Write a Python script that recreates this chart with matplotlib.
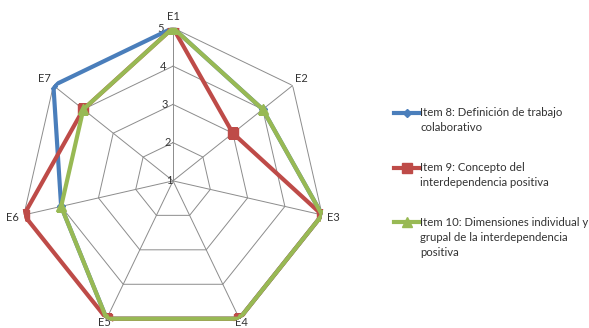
import numpy as np
import matplotlib.pyplot as plt
from matplotlib.legend_handler import HandlerLine2D

plt.rcParams['font.family'] = ['Lato', 'DejaVu Sans']

categories = ["E1", "E2", "E3", "E4", "E5", "E6", "E7"]
item8 = [5, 4, 5, 5, 5, 4, 5]
item9 = [5, 3, 5, 5, 5, 5, 4]
item10 = [5, 4, 5, 5, 5, 4, 4]
labels = [
    "Item 8: Definición de trabajo\ncolaborativo",
    "Item 9: Concepto del\ninterdependencia positiva",
    "Item 10: Dimensiones individual y\ngrupal de la interdependencia\npositiva",
]
levels = [1, 2, 3, 4, 5]


class FirstLineHandler(HandlerLine2D):
    # put the legend line next to the first text line, like Excel does
    def __init__(self, shift, **kw):
        super().__init__(**kw)
        self.shift = shift

    def create_artists(self, legend, orig_handle, xdescent, ydescent,
                       width, height, fontsize, trans):
        arts = super().create_artists(legend, orig_handle, xdescent, ydescent,
                                      width, height, fontsize, trans)
        for a in arts:
            a.set_ydata(np.asarray(a.get_ydata()) + self.shift)
        return arts


n = len(categories)
angles = np.linspace(0, 2 * np.pi, n, endpoint=False)
closed = np.append(angles, angles[0])

fig = plt.figure(figsize=(5.89, 3.28), dpi=100)
ax = fig.add_axes([0.034, -0.018, 0.5195, 0.933], projection="polar")
ax.set_theta_offset(np.pi / 2)
ax.set_theta_direction(-1)
ax.set_rlim(1, 5)
ax.grid(False)
ax.spines["polar"].set_visible(False)
ax.set_xticks([])
ax.set_yticks([])
ax.patch.set_alpha(0)

# polygon gridlines and spokes
for lv in levels[1:]:
    ax.plot(closed, [lv] * (n + 1), color="#8c8c8c", lw=0.7, zorder=1)
for a in angles:
    ax.plot([a, a], [1, 5], color="#8c8c8c", lw=0.7, zorder=1)

# level labels along the top spoke
for lv in levels:
    ax.text(-0.06, lv, str(lv), fontsize=8, ha="right", va="center",
            color="#333333")

# category labels
for a, c in zip(angles, categories):
    r = 5.12 if c in ("E4", "E5") else 5.3
    ax.text(a, r, c, fontsize=8, ha="center", va="center", color="#333333")

series = [
    (item8, "#4A7EBB", "D", 4),
    (item9, "#BE4B48", "s", 7),
    (item10, "#98B954", "^", 7),
]
handles = []
for (vals, col, mk, ms), lab in zip(series, labels):
    v = vals + vals[:1]
    h, = ax.plot(closed, v, color=col, lw=3, marker=mk, markersize=ms,
                 label=lab, zorder=3)
    handles.append(h)

fs = 8.2
step = fs * 1.4
hmap = {h: FirstLineHandler(step * (lab.count("\n")) / 2)
        for h, lab in zip(handles, labels)}
leg = fig.legend(handles=handles, labels=labels, handler_map=hmap,
                 loc="upper left", bbox_to_anchor=(0.652, 0.705),
                 frameon=False, fontsize=fs, handlelength=2.3,
                 handletextpad=0.0, labelspacing=2.55)
for t in leg.get_texts():
    t.set_linespacing(1.45)
    t.set_color("#333333")

fig.savefig("out.png", dpi=100)
